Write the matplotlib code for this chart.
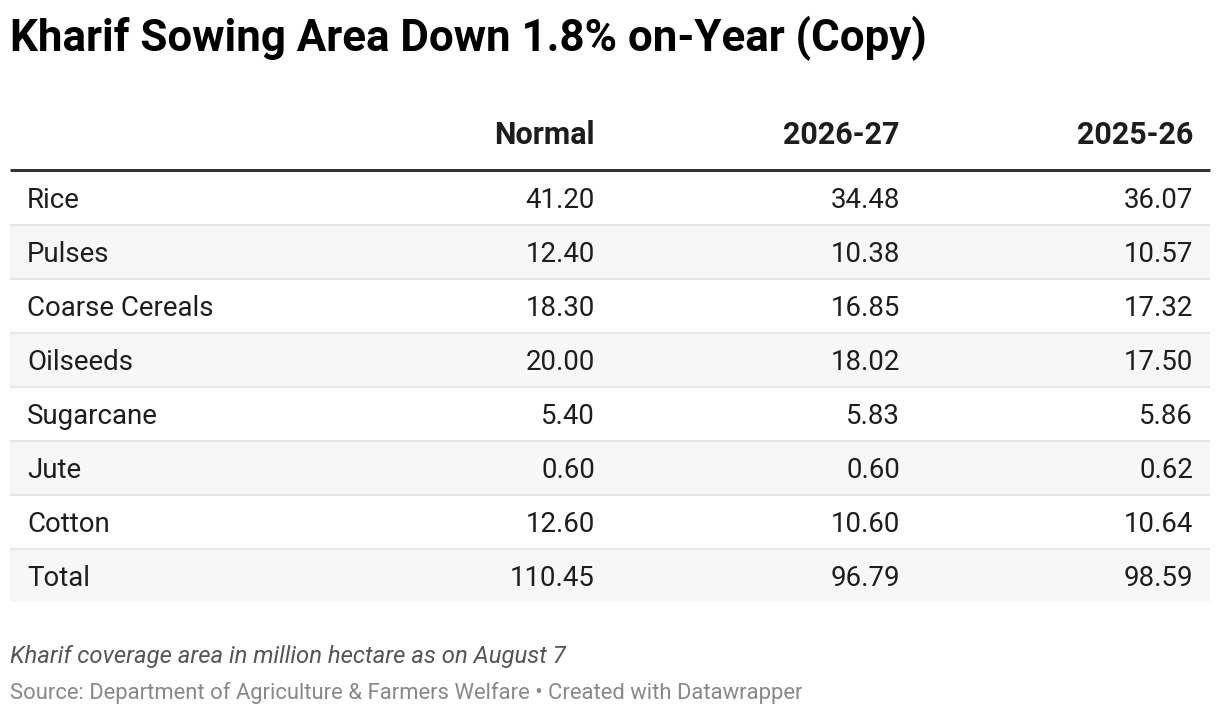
import matplotlib.pyplot as plt

# Table data
crops = ["Rice", "Pulses", "Coarse Cereals", "Oilseeds", "Sugarcane",
         "Jute", "Cotton", "Total"]
columns = ["Normal", "2026-27", "2025-26"]
normal = [41.20, 12.40, 18.30, 20.00, 5.40, 0.60, 12.60, 110.45]
year_2026_27 = [34.48, 10.38, 16.85, 18.02, 5.83, 0.60, 10.60, 96.79]
year_2025_26 = [36.07, 10.57, 17.32, 17.50, 5.86, 0.62, 10.64, 98.59]

title = "Kharif Sowing Area Down 1.8% on-Year (Copy)"
note = "Kharif coverage area in million hectare as on August 7"
source = "Source: Department of Agriculture & Farmers Welfare \u2022 Created with Datawrapper"

plt.rcParams['font.family'] = ['Roboto', 'DejaVu Sans']

W, H = 1220, 716
fig = plt.figure(figsize=(W / 100, H / 100), dpi=100)
ax = fig.add_axes([0, 0, 1, 1])
ax.set_xlim(0, W)
ax.set_ylim(H, 0)
ax.axis('off')

# pixel layout
left, right = 10, 1210
label_x = 27
col_right = [595, 900, 1193]
row_h = 54
first_top = 172
px = 72 / 100  # points per pixel

dark = "#1d1d1d"

# title
ax.text(left, 51, title, fontsize=31.6, fontweight='bold', color="#000000",
        ha='left', va='baseline')

# header
for xr, name in zip(col_right, columns):
    ax.text(xr, 144, name, fontsize=22, fontweight='bold', color=dark,
            ha='right', va='baseline')
ax.plot([left, right], [170, 170], color="#333333", lw=3 * px,
        solid_capstyle='butt')

# rows
series = [normal, year_2026_27, year_2025_26]
for i, crop in enumerate(crops):
    top = first_top + row_h * i
    if i % 2 == 1:
        ax.fill_between([left, right], top, top + 52, color="#f7f7f7", lw=0)
    if i < len(crops) - 1:
        ax.plot([left, right], [top + 53, top + 53], color="#e5e5e5",
                lw=2 * px, solid_capstyle='butt')
    base = 208 + row_h * i
    ax.text(label_x, base, crop, fontsize=19.9, color=dark, ha='left',
            va='baseline')
    for xr, vals in zip(col_right, series):
        ax.text(xr, base, f"{vals[i]:.2f}", fontsize=19.9, color=dark,
                ha='right', va='baseline')

# footer
ax.text(left, 663, note, fontsize=17.2, style='italic', color="#555555",
        ha='left', va='baseline')
ax.text(left, 699, source, fontsize=15.8, color="#888888",
        ha='left', va='baseline')

fig.savefig("out.png", dpi=100)
